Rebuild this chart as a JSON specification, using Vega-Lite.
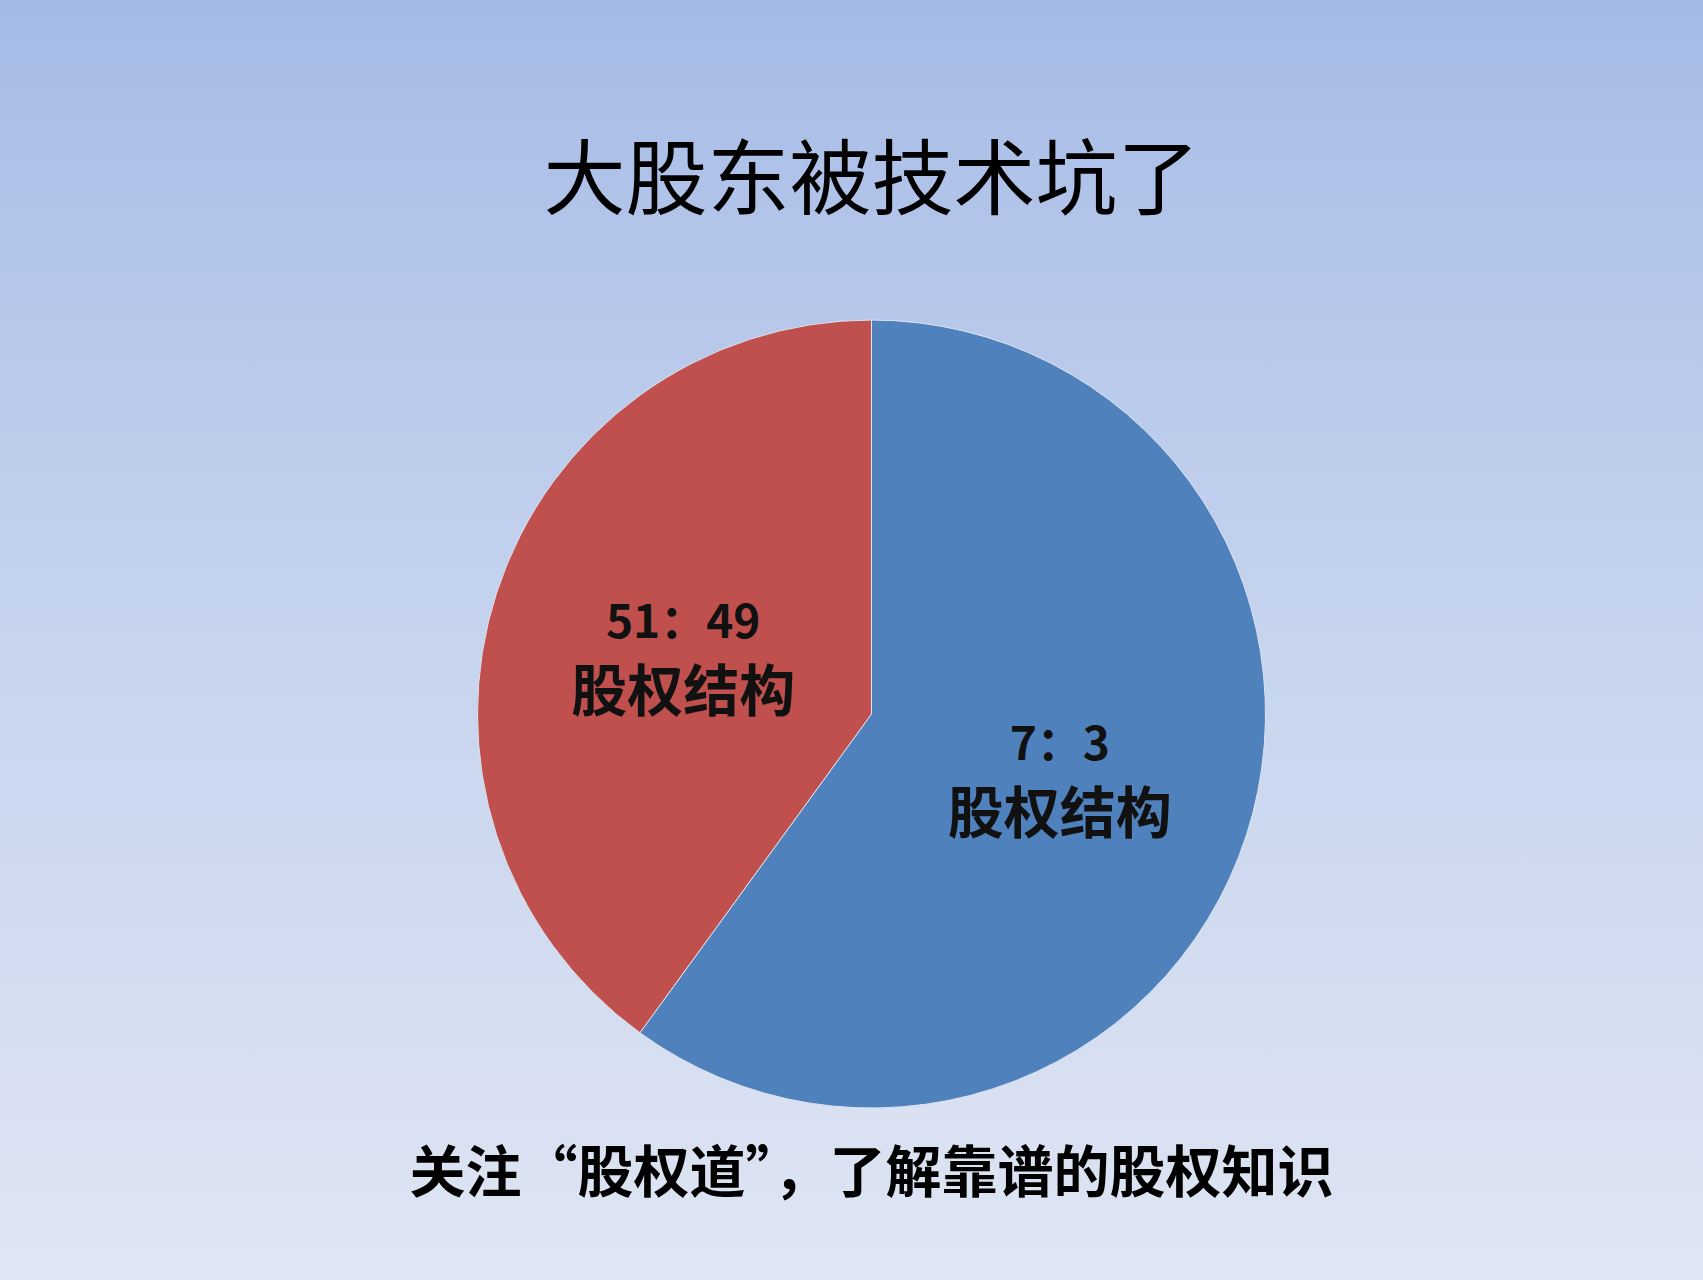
{
  "$schema": "https://vega.github.io/schema/vega-lite/v6.json",
  "width": 1663,
  "height": 1132,
  "autosize": {"type": "none"},
  "padding": {"left": 40, "top": 148, "right": 0, "bottom": 0},
  "background": "#a4bae5",
  "title": {
    "text": "大股东被技术坑了",
    "subtitle": "关注“股权道”，了解靠谱的股权知识",
    "anchor": "middle",
    "offset": -1204,
    "font": "Noto Sans CJK SC",
    "fontSize": 82,
    "fontWeight": "normal",
    "color": "#000000",
    "subtitleFont": "Noto Sans CJK SC",
    "subtitleFontSize": 56,
    "subtitleFontWeight": "bold",
    "subtitleColor": "#000000",
    "subtitlePadding": 923
  },
  "layer": [
    {
      "data": {"values": [{"背景": "渐变"}]},
      "mark": {
        "type": "rect",
        "x": -40,
        "y": -148,
        "x2": "width",
        "y2": "height",
        "color": {
          "gradient": "linear",
          "x1": 0, "y1": 0, "x2": 0, "y2": 1,
          "stops": [
            {"offset": 0, "color": "#a3b9e4"},
            {"offset": 0.1, "color": "#adc0e8"},
            {"offset": 0.5, "color": "#c6d4ee"},
            {"offset": 1, "color": "#dfe5f3"}
          ]
        }
      }
    },
    {
      "data": {
        "values": [
          {"比例": "7：3", "名称": "股权结构", "占比": 60},
          {"比例": "51：49", "名称": "股权结构", "占比": 40}
        ]
      },
      "encoding": {
        "theta": {"field": "占比", "type": "quantitative", "stack": true},
        "order": {"field": "占比", "sort": "descending"}
      },
      "layer": [
        {
          "mark": {"type": "arc", "outerRadius": 394, "stroke": "#dde4f1", "strokeWidth": 1},
          "encoding": {
            "color": {
              "field": "比例",
              "type": "nominal",
              "scale": {"domain": ["7：3", "51：49"], "range": ["#4f81bd", "#c0504d"]},
              "legend": null
            }
          }
        },
        {
          "mark": {"type": "text", "radius": 198, "dy": -29, "font": "Noto Sans CJK SC", "fontSize": 46, "fontWeight": "bold", "color": "#111111"},
          "encoding": {"text": {"field": "比例"}}
        },
        {
          "mark": {"type": "text", "radius": 198, "dy": 41, "font": "Noto Sans CJK SC", "fontSize": 56, "fontWeight": "bold", "color": "#111111"},
          "encoding": {"text": {"field": "名称"}}
        }
      ]
    }
  ],
  "config": {
    "view": {"stroke": null}
  }
}
